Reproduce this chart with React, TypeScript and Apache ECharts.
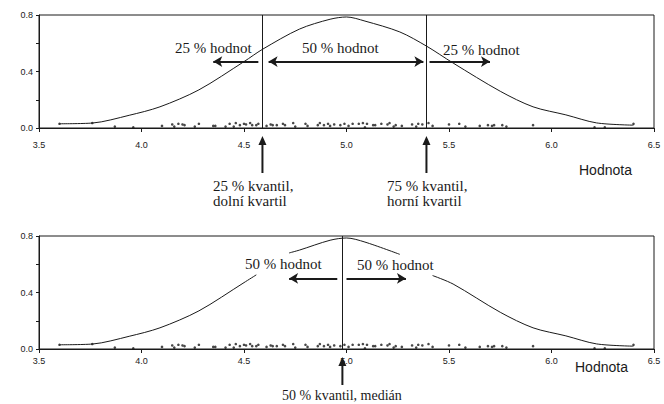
import { useEffect, useRef } from "react";
import * as echarts from "echarts";

// density curve (x, density)
const curveX = [3.6, 3.76, 3.94, 4.09, 4.28, 4.5, 4.59, 4.77, 4.92, 5.0, 5.09, 5.26, 5.39, 5.52, 5.75, 5.91, 6.07, 6.22, 6.4];
const curveY = [0.03, 0.035, 0.09, 0.15, 0.27, 0.47, 0.557, 0.7, 0.77, 0.786, 0.757, 0.68, 0.58, 0.46, 0.26, 0.15, 0.093, 0.036, 0.02];
// lower panel curve, broken where the labels sit (null = gap)
const curve2X = [3.6, 3.76, 3.94, 4.09, 4.28, 4.5, 4.56, null, 4.72, 4.77, 4.92, 5.0, 5.09, 5.26, null, 5.42, 5.52, 5.75, 5.91, 6.07, 6.22, 6.4];
const curve2Y = [0.03, 0.035, 0.09, 0.15, 0.27, 0.47, 0.525, null, 0.68, 0.7, 0.77, 0.786, 0.757, 0.67, null, 0.52, 0.46, 0.26, 0.15, 0.093, 0.036, 0.02];

// individual observations (strip near zero)
const dotX = [3.60, 3.76, 3.87, 3.96, 4.10, 4.15, 4.16, 4.18, 4.20, 4.21, 4.26, 4.28, 4.35, 4.36, 4.41, 4.43, 4.45, 4.46, 4.48, 4.50, 4.51, 4.53, 4.54, 4.56, 4.57, 4.61, 4.63, 4.64, 4.66, 4.69, 4.70, 4.74, 4.75, 4.80, 4.81, 4.86, 4.87, 4.89, 4.91, 4.92, 4.94, 4.97, 4.99, 5.01, 5.03, 5.06, 5.08, 5.09, 5.10, 5.13, 5.14, 5.17, 5.20, 5.21, 5.23, 5.24, 5.27, 5.32, 5.34, 5.35, 5.37, 5.40, 5.42, 5.50, 5.55, 5.58, 5.65, 5.69, 5.71, 5.72, 5.76, 5.78, 5.91, 6.21, 6.26, 6.40];
const dotY = [0.03, 0.035, 0.01, 0.005, 0.015, 0.025, 0.01, 0.03, 0.025, 0.02, 0.01, 0.03, 0.015, 0.015, 0.01, 0.03, 0.01, 0.035, 0.02, 0.03, 0.025, 0.035, 0.02, 0.02, 0.03, 0.015, 0.025, 0.02, 0.02, 0.03, 0.02, 0.035, 0.01, 0.03, 0.015, 0.02, 0.035, 0.02, 0.03, 0.015, 0.025, 0.02, 0.03, 0.015, 0.03, 0.03, 0.035, 0.005, 0.03, 0.02, 0.02, 0.03, 0.025, 0.035, 0.01, 0.02, 0.015, 0.025, 0.01, 0.03, 0.025, 0.035, 0.015, 0.025, 0.03, 0.01, 0.015, 0.02, 0.015, 0.02, 0.02, 0.01, 0.02, 0.005, 0.005, 0.03];

const quartiles = [4.59, 5.39];
const median = 4.98;
const shownYLabels = [0, 0.4, 0.8];

// annotation arrows in data space: [fromX, toX, y, doubleHeaded]
const arrowsTop: [number, number, number, boolean][] = [
  [4.57, 4.35, 0.47, false],
  [4.62, 5.375, 0.47, true],
  [5.405, 5.7, 0.47, false],
];
const arrowsBottom: [number, number, number, boolean][] = [
  [4.955, 4.72, 0.5, false],
  [5.0, 5.29, 0.5, false],
];

const INK = "#1a1a1a";
const SERIF = "'Liberation Serif', 'Times New Roman', serif";
const SANS = "'Liberation Sans', Arial, sans-serif";

function segments(xs: (number | null)[], ys: (number | null)[]) {
  const out: number[][][] = [];
  let cur: number[][] = [];
  xs.forEach((x, i) => {
    const y = ys[i];
    if (x === null || y === null) {
      if (cur.length) out.push(cur);
      cur = [];
    } else cur.push([x, y]);
  });
  if (cur.length) out.push(cur);
  return out;
}

function arrowLines(list: [number, number, number, boolean][]) {
  return list.map(([a, b, y, dbl]) => [
    { coord: [a, y], symbol: dbl ? "arrow" : "none" },
    { coord: [b, y], symbol: "arrow" },
  ]);
}

export default function App() {
  const ref = useRef<HTMLDivElement>(null);
  useEffect(() => {
    const chart = echarts.init(ref.current!, null, { renderer: "svg" });
    const xAxisBase = (gi: number, margin: number) => ({
      type: "value",
      gridIndex: gi,
      min: 3.5,
      max: 6.5,
      interval: 0.5,
      axisLine: { lineStyle: { color: INK, width: 1 } },
      axisTick: { show: true, length: 4, lineStyle: { color: INK } },
      splitLine: { show: false },
      axisLabel: {
        margin,
        color: INK,
        fontFamily: SANS,
        fontSize: 9,
        formatter: (v: number) => v.toFixed(1),
      },
    });
    const yAxisBase = (gi: number) => ({
      type: "value",
      gridIndex: gi,
      min: 0,
      max: 0.8,
      interval: 0.2,
      axisLine: { show: true, lineStyle: { color: INK, width: 1 } },
      axisTick: { show: true, length: 3, lineStyle: { color: INK } },
      splitLine: { show: false },
      axisLabel: {
        margin: 6,
        color: INK,
        fontFamily: SANS,
        fontSize: 9,
        formatter: (v: number) =>
          shownYLabels.some((s) => Math.abs(s - v) < 1e-9) ? v.toFixed(1) : "",
      },
    });

    const lineStyle = { color: INK, width: 1 };
    const series: any[] = [];
    series.push({
      type: "line",
      xAxisIndex: 0,
      yAxisIndex: 0,
      data: curveX.map((x, i) => [x, curveY[i]]),
      smooth: 0.3,
      showSymbol: false,
      lineStyle,
      silent: true,
      markLine: {
        silent: true,
        symbol: "none",
        label: { show: false },
        lineStyle: { color: INK, width: 1, type: "solid" },
        data: quartiles.map((q) => ({ xAxis: q })),
      },
    });
    segments(curve2X, curve2Y).forEach((seg, k) => {
      series.push({
        type: "line",
        xAxisIndex: 1,
        yAxisIndex: 1,
        data: seg,
        smooth: 0.3,
        showSymbol: false,
        lineStyle,
        silent: true,
        markLine:
          k === 0
            ? {
                silent: true,
                symbol: "none",
                label: { show: false },
                lineStyle: { color: INK, width: 1, type: "solid" },
                data: [{ xAxis: median }],
              }
            : undefined,
      });
    });
    [0, 1].forEach((gi) => {
      series.push({
        type: "scatter",
        xAxisIndex: gi,
        yAxisIndex: gi,
        data: dotX.map((x, i) => [x, dotY[i]]),
        symbol: "circle",
        symbolSize: 2.6,
        itemStyle: { color: INK },
        silent: true,
        markLine: {
          silent: true,
          symbolSize: [8, 9],
          label: { show: false },
          lineStyle: { color: INK, width: 2, type: "solid" },
          data: arrowLines(gi === 0 ? arrowsTop : arrowsBottom),
        },
      });
    });

    chart.setOption({
      animation: false,
      backgroundColor: "#ffffff",
      grid: [
        { left: 39, top: 15, width: 615, height: 113, show: true, borderColor: INK, borderWidth: 1, backgroundColor: "transparent" },
        { left: 39, top: 236, width: 615, height: 113, show: true, borderColor: INK, borderWidth: 1, backgroundColor: "transparent" },
      ],
      xAxis: [xAxisBase(0, 12), xAxisBase(1, 7)],
      yAxis: [yAxisBase(0), yAxisBase(1)],
      series,
    });

    const px = (gi: number, x: number) => (chart.convertToPixel({ gridIndex: gi } as any, [x, 0]) as number[])[0];
    const upArrow = (x: number, tip: number, tail: number) => [
      { type: "line", shape: { x1: x, y1: tail, x2: x, y2: tip + 6 }, style: { stroke: INK, lineWidth: 2 }, silent: true },
      { type: "polygon", shape: { points: [[x, tip], [x - 4, tip + 9], [x + 4, tip + 9]] }, style: { fill: INK }, silent: true },
    ];
    const txt = (text: string, x: number, y: number, font: string, size: number) => ({
      type: "text",
      x,
      y,
      silent: true,
      style: { text, fill: INK, font: `${size}px ${font}`, textVerticalAlign: "middle", lineHeight: 14 },
    });

    const q1 = px(0, quartiles[0]);
    const q3 = px(0, quartiles[1]);
    const md = px(1, median);
    chart.setOption({
      graphic: [
        ...upArrow(q1, 136, 173),
        ...upArrow(q3, 136, 173),
        ...upArrow(md, 357, 385),
        txt("25 % hodnot", 175, 48, SERIF, 15),
        txt("50 % hodnot", 302, 48, SERIF, 15),
        txt("25 % hodnot", 443, 50, SERIF, 15),
        txt("25 % kvantil,", 213, 186, SERIF, 15),
        txt("dolní kvartil", 213, 201, SERIF, 15),
        txt("75 % kvantil,", 387, 186, SERIF, 15),
        txt("horní kvartil", 387, 201, SERIF, 15),
        txt("Hodnota", 579, 170, SANS, 14),
        txt("50 % hodnot", 245, 264, SERIF, 15),
        txt("50 % hodnot", 357, 265, SERIF, 15),
        txt("50 % kvantil, medián", 282, 395, SERIF, 14),
        txt("Hodnota", 575, 367, SANS, 14),
      ],
    });
    return () => chart.dispose();
  }, []);
  return (
    <div
      ref={ref}
      style={{ position: "fixed", left: 0, top: 0, width: 664, height: 404, background: "#fff" }}
    />
  );
}
